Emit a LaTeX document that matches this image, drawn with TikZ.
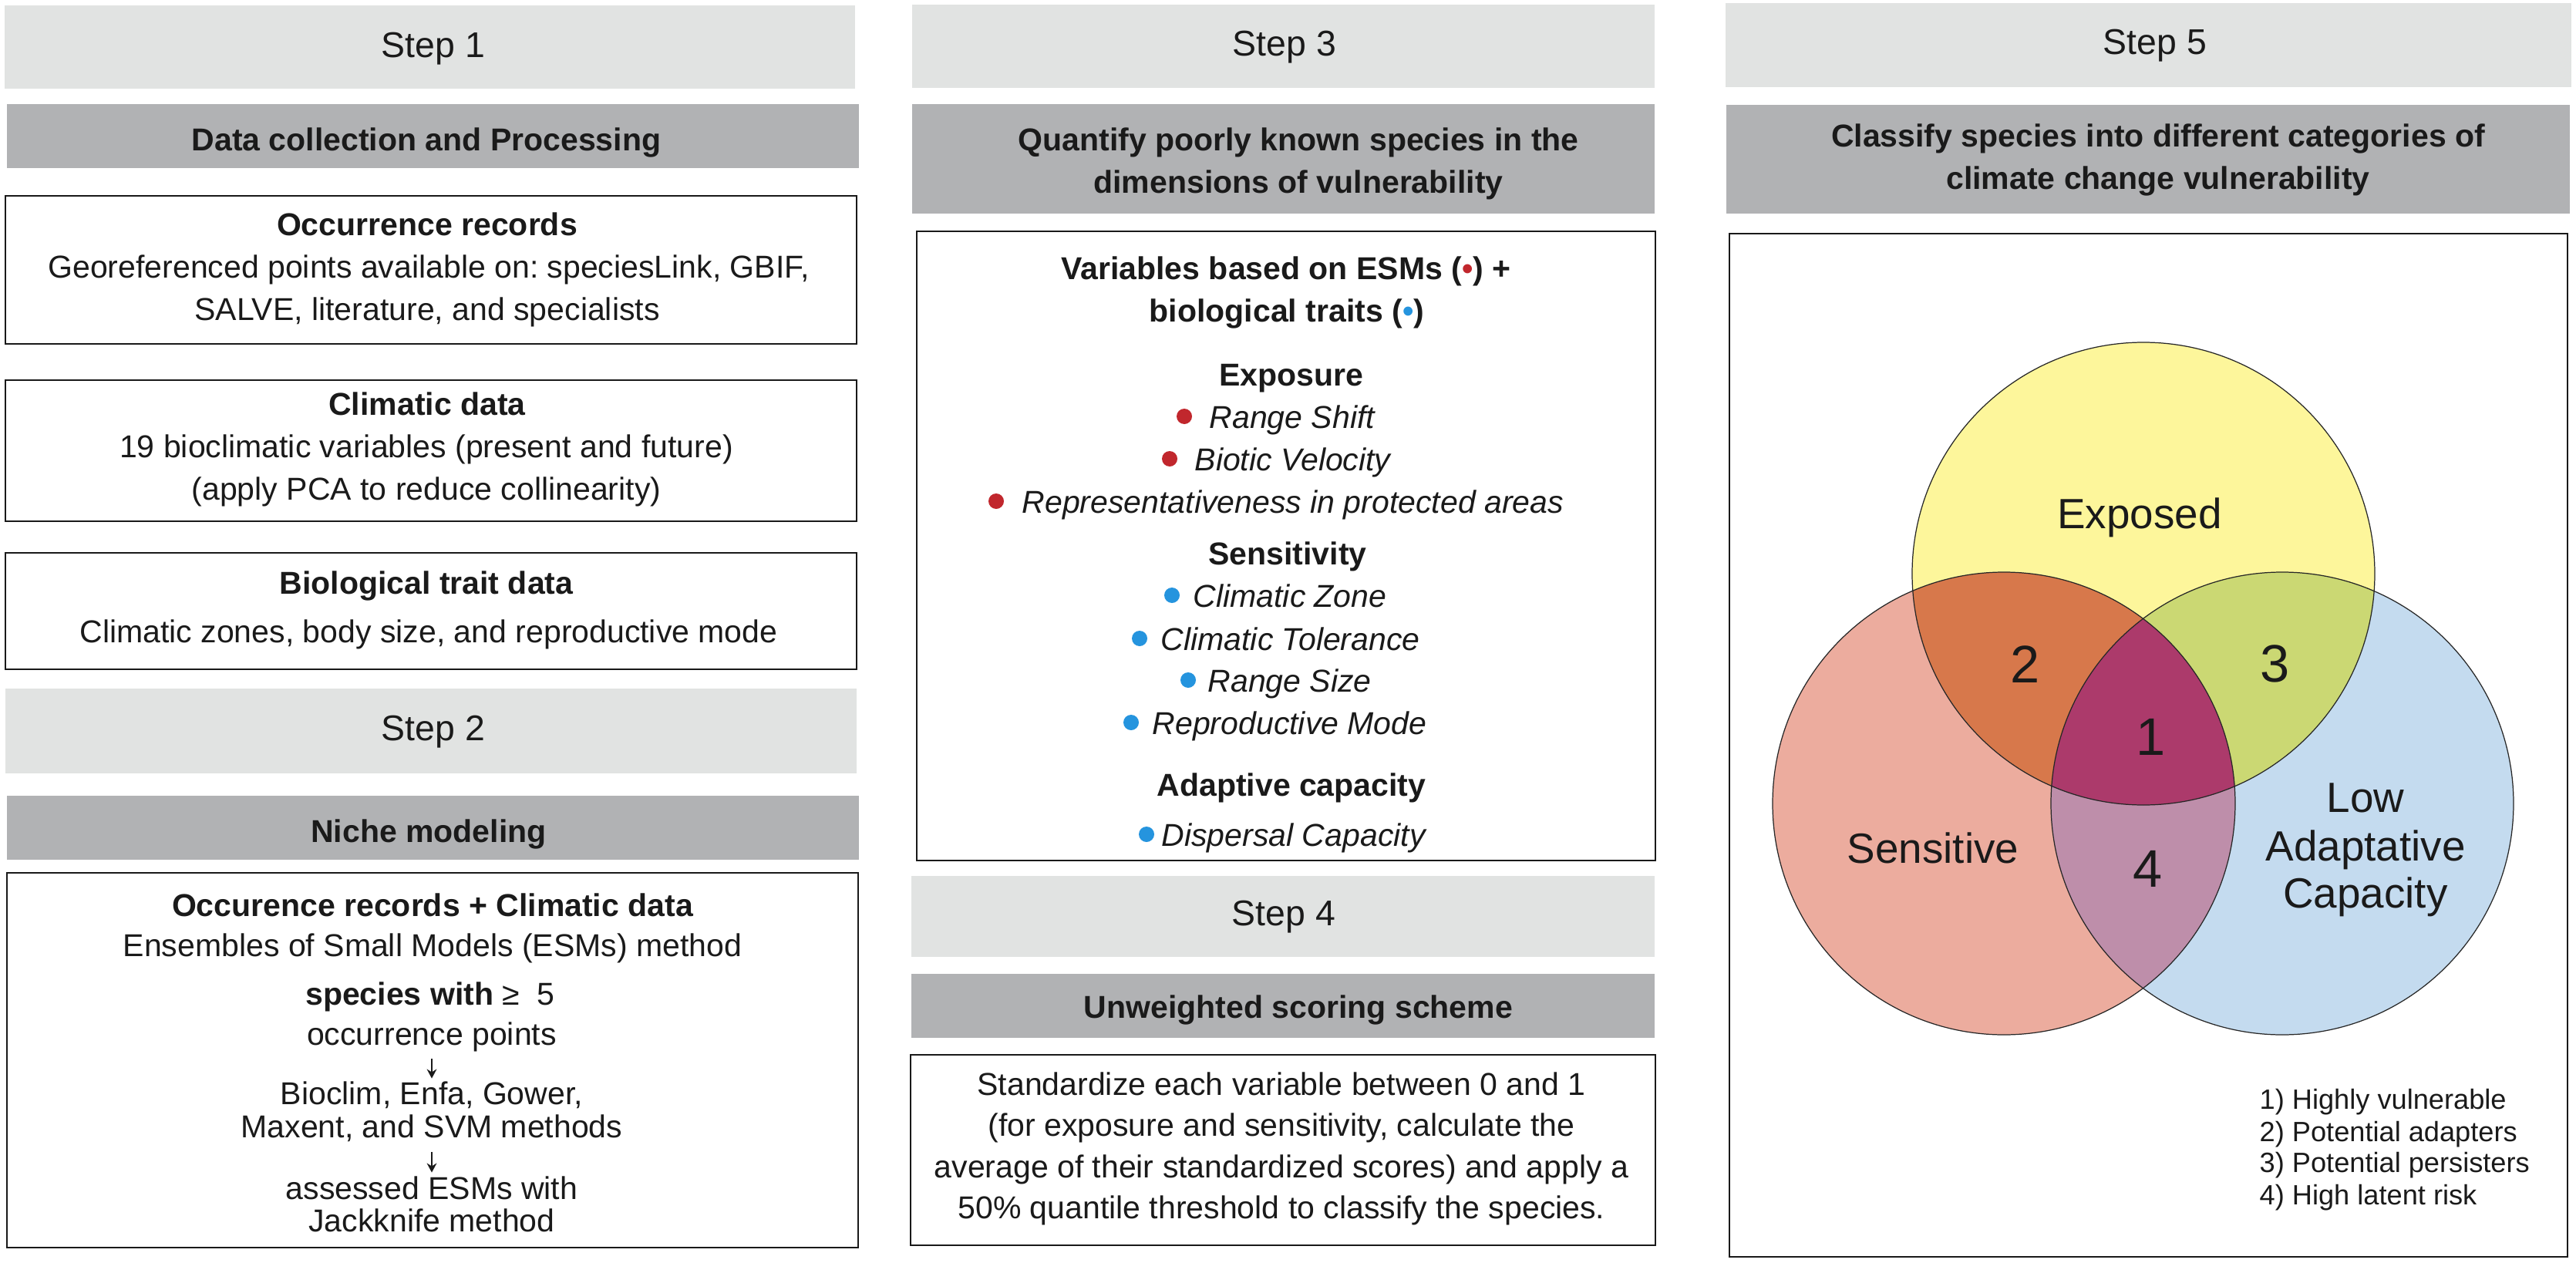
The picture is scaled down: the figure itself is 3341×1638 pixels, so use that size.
\documentclass[tikz,border=0pt]{standalone}
\usepackage{fontspec}
\setmainfont{Liberation Sans}
\usetikzlibrary{fit,arrows.meta,calc}
\definecolor{lightbox}{HTML}{E1E3E2}
\definecolor{darkbox}{HTML}{B1B2B4}
\definecolor{dotred}{HTML}{C1272D}
\definecolor{dotblue}{HTML}{2594DE}
\definecolor{vyellow}{HTML}{FDF69B}
\definecolor{vred}{HTML}{ECAC9E}
\definecolor{vblue}{HTML}{C4DBEF}
\definecolor{vtwo}{HTML}{D7784B}
\definecolor{vthree}{HTML}{CBD873}
\definecolor{vone}{HTML}{AC3A6B}
\definecolor{vfour}{HTML}{BE8EAA}
\definecolor{ink}{HTML}{1A1A1A}
\newcommand\rsdot{{\color{dotred}•}}
\newcommand\bsdot{{\color{dotblue}•}}
\begin{document}
\frenchspacing
\begin{tikzpicture}[x=0.1mm,y=-0.1mm,
  lightb/.style={fill=lightbox, draw=none, inner sep=0},
  darkb/.style={fill=darkbox, draw=none, inner sep=0},
  contentb/.style={draw=black!90, line width=0.6pt, fill=white, inner sep=0},
  body/.style={anchor=base, inner sep=0, text=ink, font=\fontsize{11.67}{14}\selectfont},
  bbody/.style={body, font=\fontsize{11.67}{14}\selectfont\bfseries},
  item/.style={anchor=base west, inner sep=0, text=ink, font=\fontsize{11.67}{14}\selectfont\itshape},
  rdotn/.style={circle, fill=dotred, draw=none, minimum size=2.0mm, inner sep=0},
  bdotn/.style={circle, fill=dotblue, draw=none, minimum size=2.0mm, inner sep=0},
  steptxt/.style={anchor=base, inner sep=0, text=ink, font=\fontsize{13.2}{15}\selectfont},
  vlab/.style={anchor=base, inner sep=0, text=ink, font=\fontsize{15.6}{17}\selectfont},
  vnum/.style={anchor=base, inner sep=0, text=ink, font=\fontsize{19.5}{20}\selectfont},
  leg/.style={anchor=base west, inner sep=0, text=ink, font=\fontsize{10.3}{12}\selectfont},
  arr/.style={-{Stealth[length=3.4pt,width=3.6pt]}, line width=0.55pt, draw=ink},
  vring/.style={draw=black!85, line width=0.35pt}
]
\useasboundingbox (0,0) rectangle (3341,1638);
\fill[white] (0,0) rectangle (3341,1638);

% ---------- Column 1 ----------
\node[lightb, fit={(6,7)(1109,115)}] (s1) {};
\node[darkb, fit={(9,135)(1114,218)}] (d1) {};
\node[contentb, fit={(7,254)(1111,446)}] (b11) {};
\node[contentb, fit={(7,493)(1111,676)}] (b12) {};
\node[contentb, fit={(7,717)(1111,868)}] (b13) {};
\node[lightb, fit={(7,893)(1111,1003)}] (s2) {};
\node[darkb, fit={(9,1032)(1114,1115)}] (d2) {};
\node[contentb, fit={(9,1132)(1113,1618)}] (b21) {};

\node[steptxt] (t1) at (562,74) {Step 1};
\node[bbody] (h1) at (553,195) {Data collection and Processing};
\node[bbody] (o1) at (554,305) {Occurrence records};
\node[body] (o2) at (556,360) {Georeferenced points available on: speciesLink, GBIF,};
\node[body] (o3) at (554,415) {SALVE, literature, and specialists};
\node[bbody] (c1) at (554,538) {Climatic data};
\node[body] (c2) at (553,593) {19 bioclimatic variables (present and future)};
\node[body] (c3) at (553,648) {(apply PCA to reduce collinearity)};
\node[bbody] (g1) at (553,770) {Biological trait data};
\node[body] (g2) at (556,833) {Climatic zones, body size, and reproductive mode};
\node[steptxt] (t2) at (562,960) {Step 2};
\node[bbody] (h2) at (556,1092) {Niche modeling};
\node[bbody] (n1) at (561,1188) {Occurence records + Climatic data};
\node[body] (n2) at (561,1240) {Ensembles of Small Models (ESMs) method};
\node[body] (n3) at (558,1303) {\textbf{species with} ≥\ \ 5};
\node[body] (n4) at (560,1355) {occurrence points};
\node[body] (n5) at (560,1432) {Bioclim, Enfa, Gower,};
\node[body] (n6) at (560,1475) {Maxent, and SVM methods};
\node[body] (n7) at (560,1555) {assessed ESMs with};
\node[body] (n8) at (560,1597) {Jackknife method};
\draw[arr, shorten <=0.9mm, shorten >=0.3mm] (n4.south) -- (n5.north);
\draw[arr, shorten <=1.3mm, shorten >=0.4mm] (n6.south) -- (n7.north);

% ---------- Column 2 ----------
\node[lightb, fit={(1183,6)(2146,114)}] (s3) {};
\node[darkb, fit={(1183,135)(2146,277)}] (d3) {};
\node[contentb, fit={(1189,300)(2147,1116)}] (b3) {};
\node[lightb, fit={(1182,1136)(2146,1241)}] (s4) {};
\node[darkb, fit={(1182,1263)(2146,1346)}] (d4) {};
\node[contentb, fit={(1181,1368)(2147,1615)}] (b4) {};

\node[steptxt] (t3) at (1666,72) {Step 3};
\node[bbody] (h3a) at (1684,195) {Quantify poorly known species in the};
\node[bbody] (h3b) at (1684,250) {dimensions of vulnerability};
\node[bbody] (v1) at (1668,362) {Variables based on ESMs (\rsdot) +};
\node[bbody] (v2) at (1669,417) {biological traits (\bsdot)};
\node[bbody] (ex) at (1675,500) {Exposure};
\node[item] (e1) at (1568,555) {Range Shift};
\node[item] (e2) at (1549,610) {Biotic Velocity};
\node[item] (e3) at (1325,665) {Representativeness in protected areas};
\node[rdotn] (e1d) at ($(e1.base west)+(-32,-15)$) {};
\node[rdotn] (e2d) at ($(e2.base west)+(-32,-15)$) {};
\node[rdotn] (e3d) at ($(e3.base west)+(-33,-15)$) {};
\node[bbody] (se) at (1670,732) {Sensitivity};
\node[item] (si1) at (1547,787) {Climatic Zone};
\node[item] (si2) at (1505,843) {Climatic Tolerance};
\node[item] (si3) at (1566,897) {Range Size};
\node[item] (si4) at (1494,952) {Reproductive Mode};
\node[bdotn] (si1d) at ($(si1.base west)+(-27,-15)$) {};
\node[bdotn] (si2d) at ($(si2.base west)+(-27,-15)$) {};
\node[bdotn] (si3d) at ($(si3.base west)+(-25,-15)$) {};
\node[bdotn] (si4d) at ($(si4.base west)+(-27,-15)$) {};
\node[bbody] (ad) at (1675,1032) {Adaptive capacity};
\node[item] (ad1) at (1506,1097) {Dispersal Capacity};
\node[bdotn] (ad1d) at ($(ad1.base west)+(-19,-15)$) {};

\node[steptxt] (t4) at (1665,1200) {Step 4};
\node[bbody] (h4) at (1684,1320) {Unweighted scoring scheme};
\node[body] (u1) at (1662,1420) {Standardize each variable between 0 and 1};
\node[body] (u2) at (1662,1473) {(for exposure and sensitivity, calculate the};
\node[body] (u3) at (1662,1527) {average of their standardized scores) and apply a};
\node[body] (u4) at (1662,1580) {50\% quantile threshold to classify the species.};

% ---------- Column 3 ----------
\node[lightb, fit={(2238,4)(3335,113)}] (s5) {};
\node[darkb, fit={(2239,136)(3333,277)}] (d5) {};
\node[contentb, fit={(2243,303)(3330,1630)}] (b5) {};

\node[steptxt] (t5) at (2795,70) {Step 5};
\node[bbody] (h5a) at (2799,190) {Classify species into different categories of};
\node[bbody] (h5b) at (2799,245) {climate change vulnerability};

% Venn diagram
\fill[vyellow] (2780,744) circle[radius=30mm];
\fill[vred] (2599,1042) circle[radius=30mm];
\fill[vblue] (2960,1042) circle[radius=30mm];
\begin{scope}
  \clip (2780,744) circle[radius=30mm];
  \fill[vtwo] (2599,1042) circle[radius=30mm];
  \fill[vthree] (2960,1042) circle[radius=30mm];
\end{scope}
\begin{scope}
  \clip (2599,1042) circle[radius=30mm];
  \fill[vfour] (2960,1042) circle[radius=30mm];
  \clip (2960,1042) circle[radius=30mm];
  \fill[vone] (2780,744) circle[radius=30mm];
\end{scope}
\node[vring, circle, minimum size=60mm, inner sep=0] (cE) at (2780,744) {};
\node[vring, circle, minimum size=60mm, inner sep=0] (cS) at (2599,1042) {};
\node[vring, circle, minimum size=60mm, inner sep=0] (cL) at (2960,1042) {};

\node[vlab] (lE) at (2775,685) {Exposed};
\node[vlab] (lS) at (2507,1119) {Sensitive};
\node[vlab] (lL1) at (3068,1053) {Low};
\node[vlab] (lL2) at (3068,1116) {Adaptative};
\node[vlab] (lL3) at (3068,1177) {Capacity};
\node[vnum] (r1) at (2790,979) {1};
\node[vnum] (r2) at (2627,885) {2};
\node[vnum] (r3) at (2951,884) {3};
\node[vnum] (r4) at (2786,1150) {4};

\node[leg] (k1) at (2930,1438) {1) Highly vulnerable};
\node[leg] (k2) at (2930,1480) {2) Potential adapters};
\node[leg] (k3) at (2930,1520) {3) Potential persisters};
\node[leg] (k4) at (2930,1562) {4) High latent risk};
\end{tikzpicture}
\end{document}
